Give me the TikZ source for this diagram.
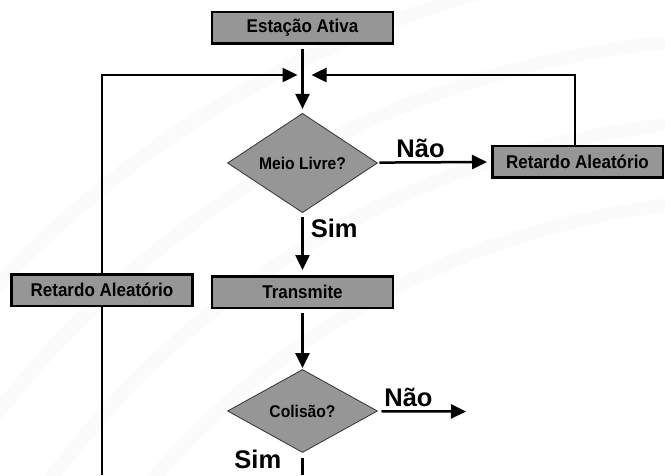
\documentclass[tikz,border=0pt]{standalone}
\usepackage{fontspec}
\setmainfont{Liberation Sans}
\newfontfamily\textocaixa[FakeStretch=0.92]{Liberation Sans}
\usetikzlibrary{arrows.meta, shapes.geometric}

\definecolor{caixa}{RGB}{150,150,150}

\begin{document}
\begin{tikzpicture}[x = 1pt, y = -1pt]
\tikzstyle{Bloco}=[shape = rectangle,
                   fill = caixa,
                   draw = black,
                   line width = 2.5pt,
                   minimum width = 181pt,
                   minimum height = 31.5pt,
                   inner sep = 0pt,
                   font = \textocaixa\fontsize{18.5}{20}\selectfont\bfseries]
\tikzstyle{Teste}=[shape = diamond,
                   fill = caixa,
                   draw = black!80,
                   line width = 0.8pt,
                   minimum width = 150pt,
                   minimum height = 83pt,
                   inner sep = 0pt,
                   font = \textocaixa\fontsize{17}{19}\selectfont\bfseries]
\tikzstyle{Seta}=[line width = 2.5pt, -{Triangle[length = 15pt, width = 14pt]}]
\tikzstyle{Linha}=[line width = 2.5pt]
\tikzstyle{Rotulo}=[font = \fontsize{25.5}{27}\selectfont\bfseries, inner sep = 1pt]
\useasboundingbox (0,0) rectangle (665,475);
% faixas claras do fundo
\begin{scope}
\clip (0,0) rectangle (665,475);
\foreach \r in {800, 880, 962, 1045}
  \draw[gray!3, line width = 14pt] (760,1000) circle (\r);
\end{scope}
% blocos
\node[Bloco] (ativa)   at (302.5, 27.5) {Estação Ativa};
\node[Teste] (meio)    at (302.5, 163)  {Meio Livre?};
\node[Bloco, minimum width = 170.5pt] (retA) at (577.5, 161.5) {Retardo Aleatório};
\node[Bloco] (transm)  at (302.5, 292)  {Transmite};
\node[Bloco] (retB)    at (102, 290)    {Retardo Aleatório};
\node[Teste] (colisao) at (302.5, 411)  {Colisão?};
\coordinate (junta) at (302.5, 75);
\coordinate (cantoE) at (102, 75);
\coordinate (cantoD) at (575, 75);
\coordinate (fimB) at (102, 475);
\coordinate (fimN) at (466, 411.5);
\coordinate (fimS) at (302.5, 475);
% ligacoes
\draw[Seta, shorten <= 4pt, shorten >= 4pt] (ativa) -- (meio);
\draw[Seta, shorten >= 5pt] (retB) -- (cantoE) -- (junta);
\draw[Seta, shorten >= 9pt] (retA.north -| cantoD) -- (cantoD) -- (junta);
\draw[Seta, shorten <= 2pt, shorten >= 4pt] (meio) -- (retA)
  node[Rotulo, pos = 0.38, above = 2pt] {Não};
\draw[Seta, shorten <= 4pt, shorten >= 5pt] (meio) -- (transm)
  node[Rotulo, pos = 0.24, right = 6pt] {Sim};
\draw[Seta, shorten <= 4pt, shorten >= 1pt] (transm) -- (colisao);
\draw[Seta, shorten <= 4pt] (colisao) -- (fimN)
  node[Rotulo, pos = 0.35, above = 2pt] {Não};
\draw[Linha, shorten <= 5pt] (colisao) -- (fimS)
  node[Rotulo, pos = 0.3, left = 19pt] {Sim};
\draw[Linha] (retB) -- (fimB);
\end{tikzpicture}
\end{document}
